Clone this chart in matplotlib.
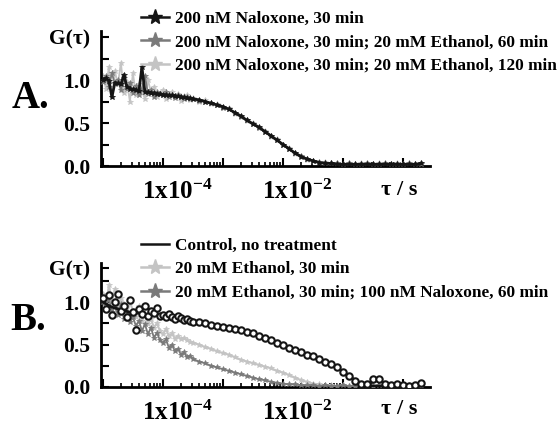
import numpy as np
import matplotlib
matplotlib.use("Agg")
import matplotlib.pyplot as plt
from matplotlib.lines import Line2D
from matplotlib.transforms import ScaledTranslation
from matplotlib.ticker import FixedLocator, LogLocator, NullFormatter, FixedFormatter

plt.rcParams['font.family'] = ['Liberation Serif', 'DejaVu Serif']
plt.rcParams['font.weight'] = 'bold'
plt.rcParams['mathtext.fontset'] = 'custom'
plt.rcParams['mathtext.rm'] = 'Liberation Serif:bold'
plt.rcParams['mathtext.it'] = 'Liberation Serif:bold'
plt.rcParams['mathtext.bf'] = 'Liberation Serif:bold'

# log10(tau / s) sampling points (shared by all curves)
log_tau = [-5.00, -4.95, -4.90, -4.85, -4.80, -4.75, -4.70, -4.65, -4.60, -4.55,
           -4.50, -4.45, -4.40, -4.35, -4.30, -4.25, -4.20, -4.15, -4.10, -4.05,
           -4.00, -3.95, -3.90, -3.85, -3.80, -3.75, -3.70, -3.65, -3.60, -3.55,
           -3.50, -3.40, -3.30, -3.20, -3.10, -3.00, -2.90, -2.80, -2.70, -2.60,
           -2.50, -2.40, -2.30, -2.20, -2.10, -2.00, -1.90, -1.80, -1.70, -1.60,
           -1.50, -1.40, -1.30, -1.20, -1.10, -1.00, -0.90, -0.80, -0.70, -0.60,
           -0.50, -0.40, -0.30, -0.20, -0.10, 0.00, 0.10, 0.20, 0.30]

# Panel A
labels_a = ["200 nM Naloxone, 30 min",
            "200 nM Naloxone, 30 min; 20 mM Ethanol, 60 min",
            "200 nM Naloxone, 30 min; 20 mM Ethanol, 120 min"]
nal_30 = [1.00, 1.02, 0.99, 0.80, 0.97, 0.96, 0.95, 1.06, 0.92, 0.90,
          0.89, 0.88, 0.87, 1.15, 0.86, 0.86, 0.85, 0.85, 0.84, 0.84,
          0.83, 0.83, 0.82, 0.82, 0.81, 0.81, 0.80, 0.80, 0.79, 0.79,
          0.78, 0.77, 0.75, 0.73, 0.71, 0.69, 0.66, 0.62, 0.58, 0.53,
          0.49, 0.45, 0.40, 0.35, 0.30, 0.25, 0.20, 0.15, 0.11, 0.08,
          0.06, 0.04, 0.03, 0.03, 0.02, 0.02, 0.02, 0.02, 0.02, 0.02,
          0.02, 0.02, 0.02, 0.02, 0.02, 0.02, 0.02, 0.02, 0.03]
nal_eth_60 = [0.98, 1.05, 0.92, 1.08, 0.95, 1.00, 0.88, 1.02, 0.90, 0.96,
              0.85, 0.93, 0.82, 0.90, 1.05, 0.84, 0.88, 0.80, 0.86, 0.84,
              0.82, 0.86, 0.80, 0.83, 0.79, 0.82, 0.80, 0.78, 0.80, 0.78,
              0.78, 0.76, 0.75, 0.73, 0.71, 0.68, 0.66, 0.62, 0.57, 0.53,
              0.49, 0.44, 0.40, 0.35, 0.30, 0.25, 0.20, 0.15, 0.12, 0.08,
              0.06, 0.05, 0.04, 0.03, 0.03, 0.02, 0.03, 0.02, 0.02, 0.03,
              0.02, 0.02, 0.03, 0.02, 0.02, 0.02, 0.03, 0.02, 0.02]
nal_eth_120 = [1.05, 0.90, 1.15, 0.80, 1.10, 0.95, 1.20, 0.85, 0.98, 0.75,
               1.08, 0.82, 0.95, 0.88, 0.78, 1.00, 0.86, 0.92, 0.80, 0.85,
               0.88, 0.78, 0.83, 0.86, 0.80, 0.84, 0.76, 0.81, 0.82, 0.77,
               0.79, 0.74, 0.77, 0.72, 0.72, 0.67, 0.67, 0.61, 0.58, 0.52,
               0.50, 0.44, 0.41, 0.34, 0.31, 0.24, 0.21, 0.14, 0.12, 0.07,
               0.06, 0.04, 0.05, 0.02, 0.04, 0.01, 0.03, 0.01, 0.03, 0.02,
               0.01, 0.03, 0.02, 0.01, 0.03, 0.02, 0.01, 0.02, 0.03]

# Panel B
labels_b = ["Control, no treatment",
            "20 mM Ethanol, 30 min",
            "20 mM Ethanol, 30 min; 100 nM Naloxone, 60 min"]
control = [1.05, 0.92, 1.08, 0.85, 1.00, 1.10, 0.90, 0.95, 0.82, 1.02,
           0.88, 0.67, 0.92, 0.86, 0.95, 0.84, 0.90, 0.87, 0.93, 0.84,
           0.85, 0.83, 0.86, 0.82, 0.80, 0.84, 0.81, 0.79, 0.80, 0.78,
           0.77, 0.76, 0.75, 0.73, 0.72, 0.71, 0.70, 0.68, 0.67, 0.65,
           0.63, 0.60, 0.58, 0.55, 0.52, 0.49, 0.46, 0.43, 0.41, 0.38,
           0.36, 0.33, 0.30, 0.27, 0.23, 0.18, 0.13, 0.07, 0.03, 0.04,
           0.09, 0.10, 0.04, 0.02, 0.03, 0.02, 0.01, 0.02, 0.05]
control_fit = [1.00, 0.98, 0.96, 0.94, 0.93, 0.92, 0.91, 0.90, 0.89, 0.88,
               0.88, 0.87, 0.87, 0.86, 0.86, 0.85, 0.85, 0.85, 0.84, 0.84,
               0.84, 0.83, 0.83, 0.82, 0.82, 0.81, 0.81, 0.80, 0.80, 0.79,
               0.78, 0.77, 0.76, 0.74, 0.73, 0.72, 0.70, 0.68, 0.67, 0.65,
               0.63, 0.60, 0.58, 0.55, 0.52, 0.49, 0.46, 0.43, 0.41, 0.38,
               0.36, 0.33, 0.30, 0.27, 0.23, 0.18, 0.13, 0.08, 0.04, 0.02,
               0.01, 0.01, 0.00, 0.00, 0.00, 0.00, 0.00, 0.00, 0.00]
eth_30 = [1.10, 0.95, 1.20, 1.00, 1.15, 0.90, 1.05, 0.98, 0.85, 1.00,
          0.90, 0.82, 0.95, 0.78, 0.86, 0.74, 0.80, 0.70, 0.75, 0.66,
          0.62, 0.68, 0.60, 0.63, 0.57, 0.60, 0.56, 0.58, 0.55, 0.53,
          0.52, 0.50, 0.47, 0.45, 0.42, 0.40, 0.38, 0.35, 0.32, 0.30,
          0.28, 0.26, 0.24, 0.22, 0.19, 0.17, 0.14, 0.11, 0.08, 0.06,
          0.04, 0.03, 0.02, 0.02, 0.01, 0.02, 0.01, 0.02, 0.01, 0.01,
          0.02, 0.01, 0.01, 0.02, 0.01, 0.01, 0.02, 0.01, 0.01]
eth_nal_60 = [1.00, 0.92, 1.05, 0.88, 0.95, 0.85, 0.98, 0.80, 0.88, 0.76,
              0.82, 0.72, 0.78, 0.66, 0.74, 0.62, 0.70, 0.58, 0.64, 0.55,
              0.52, 0.56, 0.46, 0.50, 0.42, 0.45, 0.38, 0.41, 0.35, 0.37,
              0.33, 0.30, 0.28, 0.25, 0.23, 0.21, 0.19, 0.17, 0.15, 0.13,
              0.11, 0.09, 0.08, 0.06, 0.05, 0.04, 0.03, 0.03, 0.02, 0.02,
              0.02, 0.01, 0.02, 0.01, 0.01, 0.02, 0.01, 0.01, 0.02, 0.01,
              0.01, 0.02, 0.01, 0.01, 0.02, 0.01, 0.01, 0.02, 0.01]

tau = 10.0 ** np.array(log_tau)

BLACK = '#151515'
DARK = '#7a7a7a'
LIGHT = '#c4c4c4'

fig = plt.figure(figsize=(5.57, 4.25), dpi=100)
W, H = 557.0, 425.0


def make_axes(left, right, bottom, top, ytop, gpos):
    ax = fig.add_axes([left / W, 1 - bottom / H, (right - left) / W, (bottom - top) / H])
    ax.set_xscale('log')
    ax.set_xlim(1e-5 * 0.93, 2.8)
    ax.set_ylim(0.0, ytop)
    for s in ['top', 'right']:
        ax.spines[s].set_visible(False)
    for s in ['left', 'bottom']:
        ax.spines[s].set_linewidth(2.0)
    ax.xaxis.set_major_locator(FixedLocator([1e-5, 1e-4, 1e-3, 1e-2, 1e-1, 1e0]))
    ax.xaxis.set_major_formatter(FixedFormatter(['', r'$1\mathrm{x}10^{-4}$', '',
                                                 r'$1\mathrm{x}10^{-2}$', '', '']))
    ax.xaxis.set_minor_locator(LogLocator(base=10, subs=np.arange(2, 10), numticks=20))
    ax.xaxis.set_minor_formatter(NullFormatter())
    ax.yaxis.set_major_locator(FixedLocator([0.0, 0.5, 1.0, gpos]))
    ax.yaxis.set_major_formatter(FixedFormatter(['0.0', '0.5', '1.0', 'G(τ)']))
    ax.yaxis.set_minor_locator(FixedLocator([0.25, 0.75, 1.25]))
    ax.tick_params(axis='x', which='major', direction='in', length=6, width=1.5,
                   labelsize=18, pad=10)
    ax.tick_params(axis='x', which='minor', direction='in', length=3, width=1.2)
    ax.tick_params(axis='y', which='major', direction='in', length=6, width=1.5,
                   labelsize=15.5, pad=8)
    ax.tick_params(axis='y', which='minor', direction='in', length=6, width=1.5)
    shift = ScaledTranslation(10 / 72, 0, fig.dpi_scale_trans)
    for lab in ax.get_xticklabels():
        lab.set_transform(lab.get_transform() + shift)
    ax.text(0.905, -0.175, 'τ / s', transform=ax.transAxes, ha='center', va='center',
            fontsize=16, fontweight='bold')
    return ax


legend_kw = dict(loc='upper left', frameon=False, handlelength=1.6, handletextpad=0.35,
                 labelspacing=0.42, borderpad=0, borderaxespad=0, numpoints=1,
                 prop={'weight': 'bold', 'size': 12.4})

# ---------- Panel A ----------
axA = make_axes(101, 430, 166, 31, 1.57, 1.5)
axA.plot(tau, nal_eth_120, color=LIGHT, lw=1.3, marker='*', ms=4, mew=0.5, zorder=2)
axA.plot(tau, nal_eth_60, color=DARK, lw=1.3, marker='*', ms=4, mew=0.5, zorder=3)
axA.plot(tau, nal_30, color=BLACK, lw=2.0, marker='*', ms=4, mew=0.5, zorder=4)
hA = [Line2D([], [], color=BLACK, lw=1.8, marker='*', ms=11),
      Line2D([], [], color=DARK, lw=1.8, marker='*', ms=11),
      Line2D([], [], color=LIGHT, lw=1.8, marker='*', ms=11)]
fig.legend(hA, labels_a, bbox_to_anchor=(141 / W, 1 - 11 / H), **legend_kw)
fig.text(30 / W, 1 - 98 / H, 'A.', ha='center', va='center', fontsize=28, fontweight='bold')

# ---------- Panel B ----------
axB = make_axes(101, 430, 387, 263, 1.46, 1.4)
axB.plot(tau, eth_30, color=LIGHT, lw=1.5, marker='*', ms=4, mew=0.5, zorder=2)
axB.plot(tau, eth_nal_60, color=DARK, lw=1.3, marker='*', ms=4, mew=0.5, zorder=3)
axB.plot(tau, control_fit, color=BLACK, lw=2.0, zorder=4)
axB.plot(tau, control, linestyle='none', marker='o', ms=4.6, mfc='white', mec=BLACK,
         mew=1.5, zorder=5)
hB = [Line2D([], [], color=BLACK, lw=1.8),
      Line2D([], [], color=LIGHT, lw=1.8, marker='*', ms=11),
      Line2D([], [], color=DARK, lw=1.8, marker='*', ms=11)]
fig.legend(hB, labels_b, bbox_to_anchor=(141 / W, 1 - 238 / H), **legend_kw)
fig.text(28 / W, 1 - 321 / H, 'B.', ha='center', va='center', fontsize=28, fontweight='bold')

fig.savefig('out.png', dpi=100)
